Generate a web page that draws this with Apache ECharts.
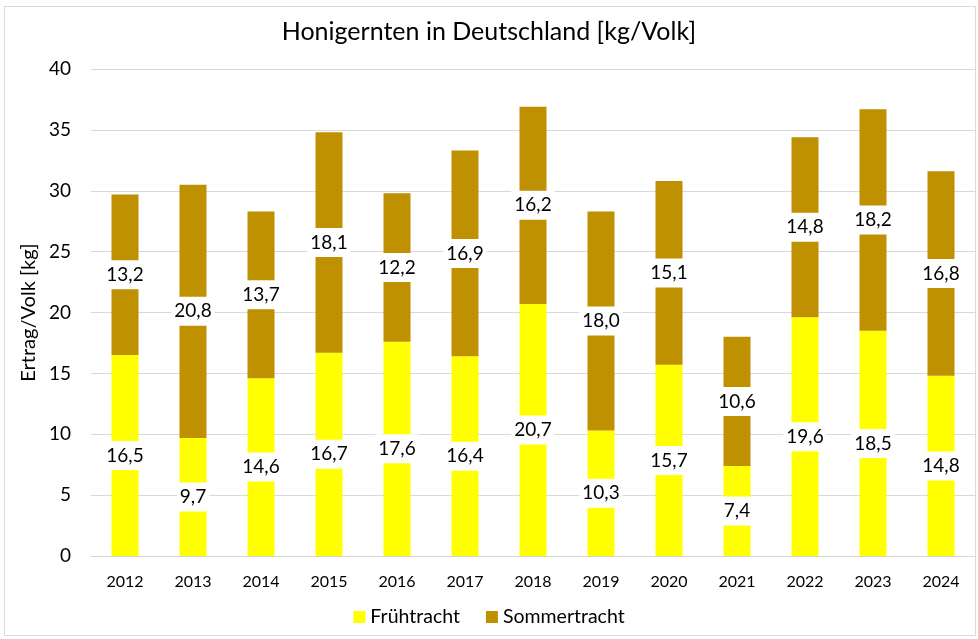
<!DOCTYPE html>
<html>
<head>
<meta charset="utf-8">
<script src="https://cdn.jsdelivr.net/npm/echarts@6/dist/echarts.min.js"></script>
<style>
  html, body { margin: 0; padding: 0; background: #fff; }
  #main { width: 978px; height: 639px; }
</style>
</head>
<body>
<div id="main"></div>
<script>
const years = ['2012', '2013', '2014', '2015', '2016', '2017', '2018', '2019', '2020', '2021', '2022', '2023', '2024']
const frueh = [16.5, 9.7, 14.6, 16.7, 17.6, 16.4, 20.7, 10.3, 15.7, 7.4, 19.6, 18.5, 14.8]
const sommer = [13.2, 20.8, 13.7, 18.1, 12.2, 16.9, 16.2, 18.0, 15.1, 10.6, 14.8, 18.2, 16.8]

const font = 'Lato, "Open Sans", sans-serif'
const chart = echarts.init(document.getElementById('main'))

// Zahlen mit Komma
const fmt = p => p.value.toFixed(1).replace('.', ',')

const label = {
  show: true,
  position: 'inside',
  formatter: fmt,
  color: '#000',
  fontSize: 19,
  fontFamily: font,
  backgroundColor: '#fff',
  padding: [5, 3]
}

chart.setOption({
  animation: false,
  textStyle: { fontFamily: font },
  title: {
    text: 'Honigernten in Deutschland [kg/Volk]',
    left: 'center',
    top: 14,
    textStyle: { fontSize: 25, fontWeight: 'normal', color: '#000', fontFamily: font }
  },
  graphic: [{
    type: 'rect',
    shape: { x: 4.5, y: 6.5, width: 971, height: 629 },
    style: { fill: 'none', stroke: '#d9d9d9', lineWidth: 1 },
    silent: true
  }],
  legend: {
    bottom: 7,
    itemWidth: 12,
    itemHeight: 12,
    itemGap: 26,
    icon: 'rect',
    textStyle: { fontSize: 19.5, color: '#000', fontFamily: font },
    data: ['Frühtracht', 'Sommertracht']
  },
  grid: { left: 91, right: 3, top: 69, bottom: 83 },
  xAxis: {
    type: 'category',
    data: years,
    axisTick: { show: false },
    axisLine: { lineStyle: { color: '#d9d9d9' } },
    axisLabel: { color: '#000', fontSize: 16, margin: 18 }
  },
  yAxis: {
    type: 'value',
    min: 0,
    max: 40,
    interval: 5,
    name: 'Ertrag/Volk [kg]',
    nameLocation: 'middle',
    nameGap: 52,
    nameTextStyle: { fontSize: 20, color: '#000' },
    axisLabel: { color: '#000', fontSize: 19, margin: 20 },
    splitLine: { lineStyle: { color: '#d9d9d9' } }
  },
  series: [
    {
      name: 'Frühtracht',
      type: 'bar',
      stack: 'honig',
      barWidth: 27,
      data: frueh,
      itemStyle: { color: '#ffff00' },
      label
    },
    {
      name: 'Sommertracht',
      type: 'bar',
      stack: 'honig',
      barWidth: 27,
      data: sommer,
      itemStyle: { color: '#bf9000' },
      label
    }
  ]
})
</script>
</body>
</html>
